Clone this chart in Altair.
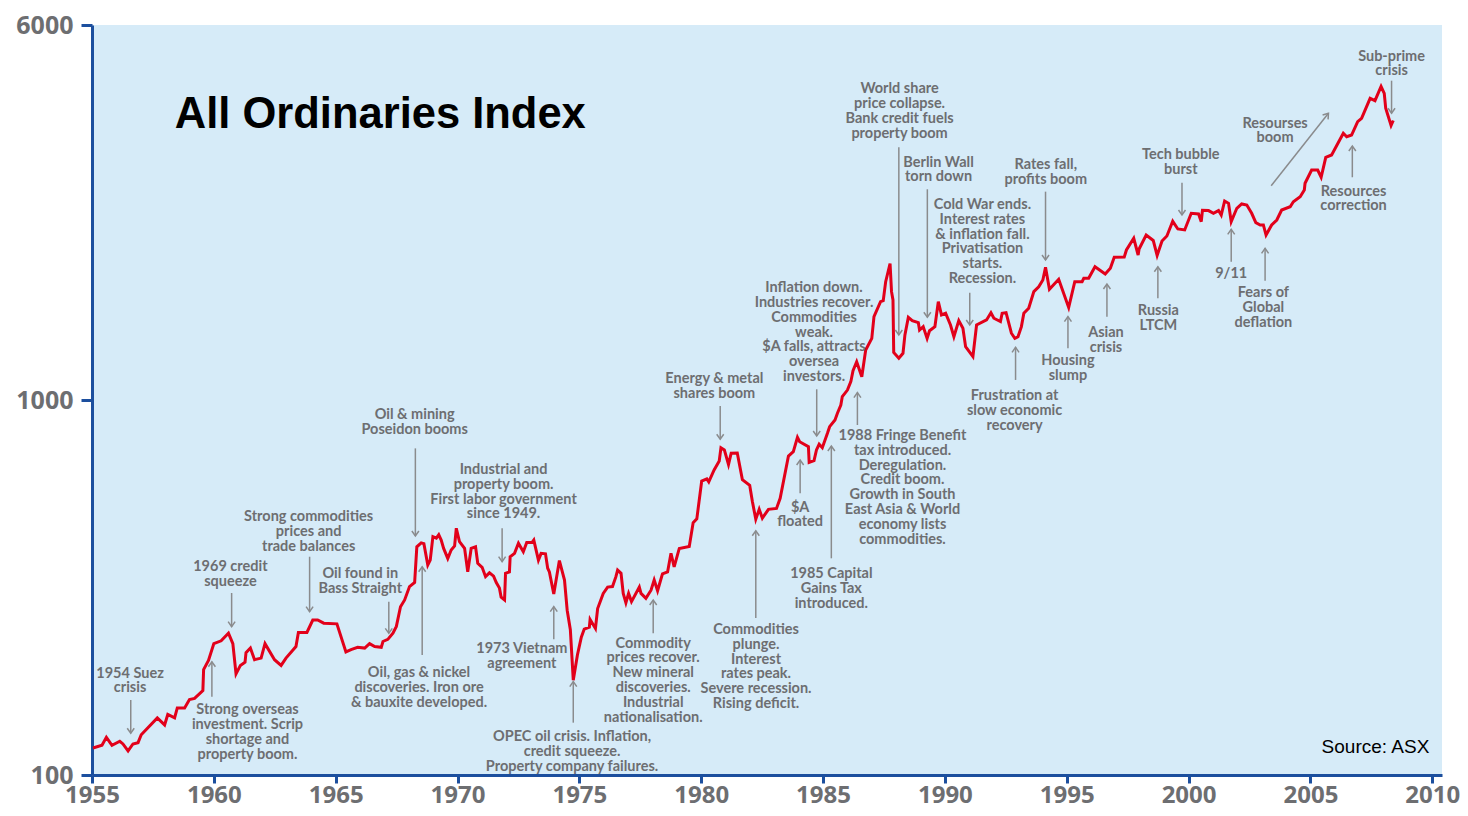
import math
import altair as alt
import pandas as pd

# ---- All Ordinaries index ----
years = [1955.04, 1955.41, 1955.59, 1955.82, 1956.14, 1956.27, 1956.48, 1956.68, 1956.89, 1957.02,
         1957.68, 1957.98, 1958.11, 1958.39, 1958.50, 1958.80, 1959.00, 1959.21, 1959.55, 1959.58,
         1959.78, 1960.00, 1960.30, 1960.60, 1960.78, 1960.91, 1961.09, 1961.28, 1961.32, 1961.50,
         1961.67, 1961.94, 1962.10, 1962.49, 1962.76, 1962.96, 1963.37, 1963.47, 1963.82, 1964.06,
         1964.26, 1964.51, 1965.05, 1965.42, 1965.63, 1965.90, 1966.19, 1966.39, 1966.60, 1966.87,
         1966.94, 1967.14, 1967.35, 1967.49, 1967.66, 1967.83, 1968.03, 1968.24, 1968.33, 1968.51,
         1968.62, 1968.78, 1968.88, 1968.99, 1969.13, 1969.23, 1969.33, 1969.43, 1969.60, 1969.74,
         1969.88, 1969.95, 1970.08, 1970.29, 1970.42, 1970.56, 1970.74, 1970.83, 1971.01, 1971.15,
         1971.31, 1971.48, 1971.59, 1971.72, 1971.79, 1971.93, 1971.97, 1972.13, 1972.16, 1972.34,
         1972.50, 1972.70, 1972.84, 1973.06, 1973.13, 1973.32, 1973.43, 1973.61, 1973.70, 1973.77,
         1973.95, 1974.18, 1974.39, 1974.50, 1974.63, 1974.75, 1974.92, 1975.08, 1975.20, 1975.41,
         1975.44, 1975.66, 1975.75, 1975.98, 1976.16, 1976.36, 1976.50, 1976.57, 1976.71, 1976.80,
         1976.91, 1977.02, 1977.14, 1977.46, 1977.53, 1977.73, 1977.94, 1978.07, 1978.21, 1978.41,
         1978.62, 1978.76, 1978.89, 1979.10, 1979.51, 1979.67, 1979.82, 1980.02, 1980.23, 1980.31,
         1980.53, 1980.74, 1980.81, 1980.95, 1981.12, 1981.23, 1981.48, 1981.69, 1981.99, 1982.10,
         1982.24, 1982.38, 1982.51, 1982.76, 1983.09, 1983.24, 1983.58, 1983.78, 1983.95, 1984.04,
         1984.40, 1984.43, 1984.63, 1984.73, 1984.84, 1984.97, 1985.18, 1985.27, 1985.49, 1985.59,
         1985.73, 1985.79, 1986.00, 1986.14, 1986.23, 1986.38, 1986.59, 1986.75, 1987.00, 1987.09,
         1987.36, 1987.47, 1987.57, 1987.75, 1987.81, 1987.87, 1987.90, 1988.11, 1988.28, 1988.36,
         1988.50, 1988.66, 1988.91, 1988.96, 1989.11, 1989.27, 1989.37, 1989.59, 1989.73, 1989.86,
         1990.03, 1990.23, 1990.37, 1990.57, 1990.74, 1990.85, 1991.15, 1991.30, 1991.71, 1991.89,
         1992.01, 1992.28, 1992.35, 1992.51, 1992.73, 1992.87, 1993.00, 1993.14, 1993.24, 1993.44,
         1993.65, 1993.85, 1994.02, 1994.13, 1994.29, 1994.67, 1995.08, 1995.33, 1995.63, 1995.70,
         1995.90, 1996.16, 1996.58, 1996.79, 1996.95, 1997.36, 1997.45, 1997.75, 1997.93, 1997.97,
         1998.26, 1998.55, 1998.71, 1998.91, 1999.11, 1999.35, 1999.56, 1999.84, 2000.11, 2000.41,
         2000.52, 2000.57, 2000.82, 2001.02, 2001.23, 2001.34, 2001.48, 2001.64, 2001.75, 2001.98,
         2002.18, 2002.39, 2002.59, 2002.76, 2002.94, 2003.07, 2003.18, 2003.41, 2003.62, 2003.82,
         2004.17, 2004.30, 2004.58, 2004.75, 2004.78, 2005.05, 2005.30, 2005.44, 2005.63, 2005.87,
         2006.35, 2006.49, 2006.69, 2006.94, 2007.10, 2007.45, 2007.65, 2007.90, 2008.03, 2008.09,
         2008.31, 2008.40]

index_values = [118, 120, 126, 120, 123, 121, 116, 121, 122, 128,
                142, 136, 145, 142, 151, 151, 159, 160, 168, 191,
                202, 224, 228, 239, 224, 186, 196, 200, 212, 218,
                203, 205, 224, 203, 196, 205, 220, 240, 240, 259,
                259, 254, 253, 213, 216, 219, 218, 224, 220, 219,
                227, 230, 239, 249, 281, 293, 318, 326, 406, 416,
                414, 363, 374, 432, 428, 437, 423, 402, 378, 398,
                408, 455, 419, 402, 348, 402, 406, 367, 358, 338,
                346, 339, 326, 315, 298, 293, 345, 348, 382, 390,
                415, 394, 417, 417, 423, 374, 390, 389, 356, 348,
                304, 373, 331, 275, 244, 179, 209, 233, 245, 248,
                260, 246, 278, 305, 317, 318, 338, 352, 345, 305,
                288, 305, 290, 317, 305, 296, 311, 331, 310, 344,
                348, 390, 359, 402, 407, 471, 482, 608, 616, 605,
                651, 688, 746, 736, 673, 721, 722, 613, 592, 536,
                481, 511, 484, 511, 514, 547, 709, 728, 795, 774,
                751, 682, 689, 736, 762, 746, 815, 849, 885, 922,
                970, 1021, 1063, 1119, 1197, 1265, 1154, 1359, 1460, 1668,
                1829, 1840, 2068, 2312, 1945, 1848, 1339, 1292, 1332, 1491,
                1662, 1628, 1608, 1537, 1569, 1460, 1530, 1569, 1829, 1686,
                1703, 1585, 1475, 1628, 1553, 1387, 1305, 1585, 1635, 1709,
                1652, 1618, 1703, 1709, 1507, 1460, 1475, 1569, 1703, 1756,
                1945, 2005, 2089, 2259, 1973, 2098, 1765, 2068, 2068, 2111,
                2111, 2267, 2168, 2245, 2402, 2405, 2512, 2699, 2436, 2527,
                2754, 2663, 2429, 2655, 2737, 2996, 2858, 2841, 3147, 3133,
                2989, 3206, 3200, 3147, 3200, 3114, 3394, 3346, 2989, 3245,
                3332, 3311, 3147, 2971, 2929, 2929, 2754, 2929, 3020, 3211,
                3277, 3379, 3484, 3631, 3784, 4105, 4105, 3926, 4438, 4502,
                5143, 5036, 5089, 5524, 5640, 6376, 6283, 6855, 6575, 5997,
                5395, 5563]

# ---- annotations (text anchor = top centre of the first line) ----
ann_text = [
    "1954 Suez\ncrisis",
    "Strong overseas\ninvestment. Scrip\nshortage and\nproperty boom.",
    "1969 credit\nsqueeze",
    "Strong commodities\nprices and\ntrade balances",
    "Oil found in\nBass Straight",
    "Oil & mining\nPoseidon booms",
    "Oil, gas & nickel\ndiscoveries. Iron ore\n& bauxite developed.",
    "Industrial and\nproperty boom.\nFirst labor government\nsince 1949.",
    "1973 Vietnam\nagreement",
    "OPEC oil crisis. Inflation,\ncredit squeeze.\nProperty company failures.",
    "Commodity\nprices recover.\nNew mineral\ndiscoveries.\nIndustrial\nnationalisation.",
    "Energy & metal\nshares boom",
    "Commodities\nplunge.\nInterest\nrates peak.\nSevere recession.\nRising deficit.",
    "$A\nfloated",
    "Inflation down.\nIndustries recover.\nCommodities\nweak.\n$A falls, attracts\noversea\ninvestors.",
    "1985 Capital\nGains Tax\nintroduced.",
    "1988 Fringe Benefit\ntax introduced.\nDeregulation.\nCredit boom.\nGrowth in South\nEast Asia & World\neconomy lists\ncommodities.",
    "World share\nprice collapse.\nBank credit fuels\nproperty boom",
    "Berlin Wall\ntorn down",
    "Cold War ends.\nInterest rates\n& inflation fall.\nPrivatisation\nstarts.\nRecession.",
    "Rates fall,\nprofits boom",
    "Frustration at\nslow economic\nrecovery",
    "Housing\nslump",
    "Asian\ncrisis",
    "Russia\nLTCM",
    "Tech bubble\nburst",
    "9/11",
    "Fears of\nGlobal\ndeflation",
    "Resourses\nboom",
    "Resources\ncorrection",
    "Sub-prime\ncrisis",
]
ann_year = [1956.56, 1961.38, 1960.68, 1963.89, 1966.01, 1968.24, 1968.42, 1971.89, 1972.64, 1974.70,
            1978.03, 1980.54, 1982.25, 1984.06, 1984.63, 1985.34, 1988.26, 1988.14, 1989.74, 1991.54,
            1994.14, 1992.86, 1995.05, 1996.61, 1998.76, 1999.68, 2001.75, 2003.07, 2003.55, 2006.77,
            2008.33]
ann_value = [194.5, 155.3, 374.4, 508.9, 359.3, 952, 194.9, 679, 225.9, 131.8,
             233.8, 1186, 254.3, 538.9, 2073, 357.9, 836.9, 7034, 4483, 3457,
             4419, 1070, 1327, 1578, 1803, 4691, 2267, 2010, 5696, 3751,
             8593]

# ---- arrows: tail (year, value) -> tip (year, value) ----
arrow_year = [1956.59, 1959.92, 1960.73, 1963.93, 1967.18, 1968.27, 1968.55, 1971.83, 1973.95, 1974.75,
              1978.03, 1980.78, 1982.24, 1984.06, 1984.74, 1985.34, 1986.41, 1988.11, 1989.28, 1991.02,
              1994.13, 1992.90, 1995.05, 1996.65, 1998.74, 1999.73, 2001.75, 2003.14, 2003.39, 2006.72,
              2008.33]
arrow_from = [158.5, 161.7, 305.7, 382, 289.8, 743, 208.9, 454.9, 230.1, 137.9,
              238.7, 963.8, 262.2, 563.9, 1068, 378.3, 857.7, 4720, 3647, 1932,
              3594, 1131, 1374, 1668, 1867, 3797, 2338, 2080, 3728, 3926,
              7104]
arrow_tip_year = [1956.59, 1959.92, 1960.73, 1963.93, 1967.18, 1968.27, 1968.55, 1971.83, 1973.95, 1974.75,
                  1978.03, 1980.78, 1982.24, 1984.06, 1984.74, 1985.34, 1986.41, 1988.11, 1989.28, 1991.02,
                  1994.13, 1992.90, 1995.05, 1996.65, 1998.74, 1999.73, 2001.75, 2003.14, 2005.74, 2006.72,
                  2008.33]
arrow_tip = [129.2, 200.5, 248.6, 272.6, 238.7, 433.8, 359.3, 370.6, 281.1, 177.4,
             292.9, 785.7, 448.2, 691.8, 801.7, 754, 1046, 1491, 1662, 1585,
             2362, 1382, 1668, 2039, 2267, 3114, 2852, 2538, 5815, 4757,
             5815]

x_ticks = [1955, 1960, 1965, 1970, 1975, 1980, 1985, 1990, 1995, 2000, 2005, 2010]
y_ticks = [100, 1000, 10000]

title_text = "All Ordinaries Index"
source_text = "Source: ASX"

# ---- layout / style ----
W, H = 1350, 750
X_DOMAIN = [1955, 2010.4]
Y_DOMAIN = [100, 10000]
RED = "#e2001a"
BLUE = "#1c4f9e"
GREY_TXT = "#6d6e71"
GREY_ARROW = "#8a8b8d"

line_df = pd.DataFrame({"year": years, "value": index_values})
ann_df = pd.DataFrame({"text": ann_text, "year": ann_year, "value": ann_value})

px_per_year = W / (X_DOMAIN[1] - X_DOMAIN[0])
px_per_decade = H / (math.log10(Y_DOMAIN[1]) - math.log10(Y_DOMAIN[0]))
angles = []
for y0, v0, y1, v1 in zip(arrow_year, arrow_from, arrow_tip_year, arrow_tip):
    dx = (y1 - y0) * px_per_year
    dy = (math.log10(v1) - math.log10(v0)) * px_per_decade
    angles.append(math.degrees(math.atan2(dx, dy)) % 360)
arrow_df = pd.DataFrame({"year": arrow_year, "from": arrow_from,
                         "tip_year": arrow_tip_year, "tip": arrow_tip, "angle": angles})

xs = alt.Scale(domain=X_DOMAIN, nice=False, zero=False)
ys = alt.Scale(type="log", domain=Y_DOMAIN, nice=False)

x_axis = alt.Axis(values=x_ticks, format="d", title=None, grid=False,
                  labelFont="Open Sans", labelFontWeight="bold", labelFontSize=24,
                  labelColor=GREY_TXT, labelPadding=0, tickSize=8, tickWidth=3,
                  tickColor=BLUE, domainColor=BLUE, domainWidth=3, labelFlush=False)
y_axis = alt.Axis(values=y_ticks, title=None, grid=False,
                  labelExpr="datum.value >= 10000 ? '6000' : format(datum.value, 'd')",
                  labelFont="Open Sans", labelFontWeight="bold", labelFontSize=25,
                  labelColor=GREY_TXT, labelPadding=8, tickSize=11, tickWidth=3,
                  tickColor=BLUE, domainColor=BLUE, domainWidth=3, labelFlush=False)

base = alt.Chart(line_df)

line = base.mark_line(color=RED, strokeWidth=3, strokeJoin="miter").encode(
    x=alt.X("year:Q", scale=xs, axis=x_axis),
    y=alt.Y("value:Q", scale=ys, axis=y_axis),
)

rules = alt.Chart(arrow_df).mark_rule(color=GREY_ARROW, strokeWidth=1.5).encode(
    x=alt.X("year:Q", scale=xs), x2="tip_year:Q",
    y=alt.Y("from:Q", scale=ys), y2="tip:Q",
)

heads = alt.Chart(arrow_df).mark_point(
    shape="M-0.7,1L0,0L0.7,1", filled=False, color=GREY_ARROW,
    strokeWidth=1.5, size=100, opacity=1,
).encode(
    x=alt.X("tip_year:Q", scale=xs),
    y=alt.Y("tip:Q", scale=ys),
    angle=alt.Angle("angle:Q", scale=None),
)

labels = alt.Chart(ann_df).mark_text(
    align="center", baseline="top", lineBreak="\n", font="Lato",
    fontWeight="bold", fontSize=14.5, lineHeight=14.8, color=GREY_TXT,
).encode(
    x=alt.X("year:Q", scale=xs),
    y=alt.Y("value:Q", scale=ys),
    text="text:N",
)

title_df = pd.DataFrame({"text": [title_text], "year": [1958.40], "value": [5312]})
title = alt.Chart(title_df).mark_text(
    align="left", baseline="alphabetic", font="Liberation Sans",
    fontWeight="bold", fontSize=43.5, color="#000000",
).encode(x=alt.X("year:Q", scale=xs), y=alt.Y("value:Q", scale=ys), text="text:N")

src_df = pd.DataFrame({"text": [source_text], "year": [2009.88], "value": [118.8]})
source = alt.Chart(src_df).mark_text(
    align="right", baseline="middle", font="Liberation Sans",
    fontSize=19, color="#000000",
).encode(x=alt.X("year:Q", scale=xs), y=alt.Y("value:Q", scale=ys), text="text:N")

chart = alt.layer(line, rules, heads, labels, title, source).properties(
    width=W, height=H,
    autosize=alt.AutoSizeParams(type="none"),
    padding={"left": 84, "top": 17, "right": 18, "bottom": 33},
    background="#ffffff",
).configure_view(fill="#d6ebf8", stroke=None)

chart.save("out.html", embed_options={"renderer": "svg", "actions": False})
